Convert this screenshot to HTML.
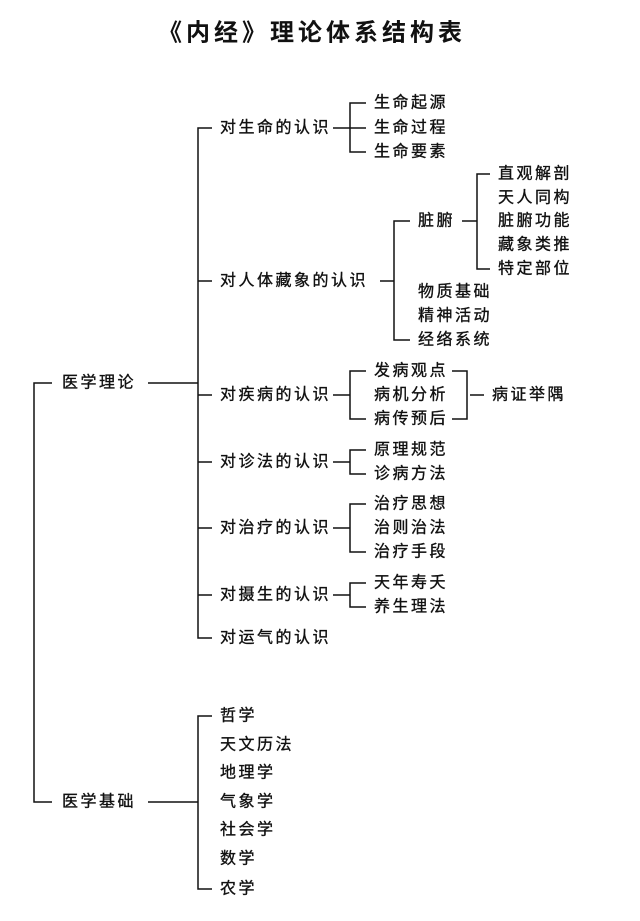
<!DOCTYPE html>
<html><head><meta charset="utf-8"><style>
html,body{margin:0;padding:0;background:#fff;}
svg{display:block;}
text{font-family:"Liberation Sans","Noto Sans CJK SC",sans-serif;font-size:16px;fill:#111;stroke:#111;stroke-width:0.35px;letter-spacing:2.5px;dominant-baseline:central;}
.t{font-size:24px;font-weight:bold;letter-spacing:4px;stroke-width:0;}
</style></head><body>
<svg width="640" height="921" viewBox="0 0 640 921" xmlns="http://www.w3.org/2000/svg">
<text class="t" x="312" y="33" text-anchor="middle">《内经》理论体系结构表</text>
<g stroke="#111" stroke-width="1.5" fill="none">
<path d="M52 383H34V802H52"/>
<path d="M148 383H198M148 802H198"/>
<path d="M212 128H198V638H212M198 281H212M198 395H212M198 462H212M198 528H212M198 595H212"/>
<path d="M333 128H350M366 103H350V152H366M350 128H366"/>
<path d="M380 281H394M410 221H394V340H410"/>
<path d="M462 221H477M490 174H477V269H490"/>
<path d="M333 395H350M366 371H350V419H366"/>
<path d="M452 371H467V419H452M470 395H484"/>
<path d="M333 462H350M366 450H350V474H366"/>
<path d="M333 528H350M366 504H350V552H366"/>
<path d="M333 595H350M366 583H350V607H366"/>
<path d="M212 716H198V889H212"/>
</g>
<text x="62" y="383">医学理论</text>
<text x="62" y="802">医学基础</text>
<text x="220" y="128">对生命的认识</text>
<text x="220" y="281">对人体藏象的认识</text>
<text x="220" y="395">对疾病的认识</text>
<text x="220" y="462">对诊法的认识</text>
<text x="220" y="528">对治疗的认识</text>
<text x="220" y="595">对摄生的认识</text>
<text x="220" y="638">对运气的认识</text>
<text x="374" y="103">生命起源</text>
<text x="374" y="128">生命过程</text>
<text x="374" y="152">生命要素</text>
<text x="418" y="221">脏腑</text>
<text x="418" y="292">物质基础</text>
<text x="418" y="316">精神活动</text>
<text x="418" y="340">经络系统</text>
<text x="498" y="174">直观解剖</text>
<text x="498" y="198">天人同构</text>
<text x="498" y="221">脏腑功能</text>
<text x="498" y="245">藏象类推</text>
<text x="498" y="269">特定部位</text>
<text x="374" y="371">发病观点</text>
<text x="374" y="395">病机分析</text>
<text x="374" y="419">病传预后</text>
<text x="492" y="395">病证举隅</text>
<text x="374" y="450">原理规范</text>
<text x="374" y="474">诊病方法</text>
<text x="374" y="504">治疗思想</text>
<text x="374" y="528">治则治法</text>
<text x="374" y="552">治疗手段</text>
<text x="374" y="583">天年寿夭</text>
<text x="374" y="607">养生理法</text>
<text x="220" y="716">哲学</text>
<text x="220" y="745">天文历法</text>
<text x="220" y="773">地理学</text>
<text x="220" y="802">气象学</text>
<text x="220" y="830">社会学</text>
<text x="220" y="859">数学</text>
<text x="220" y="889">农学</text>
</svg>
</body></html>
